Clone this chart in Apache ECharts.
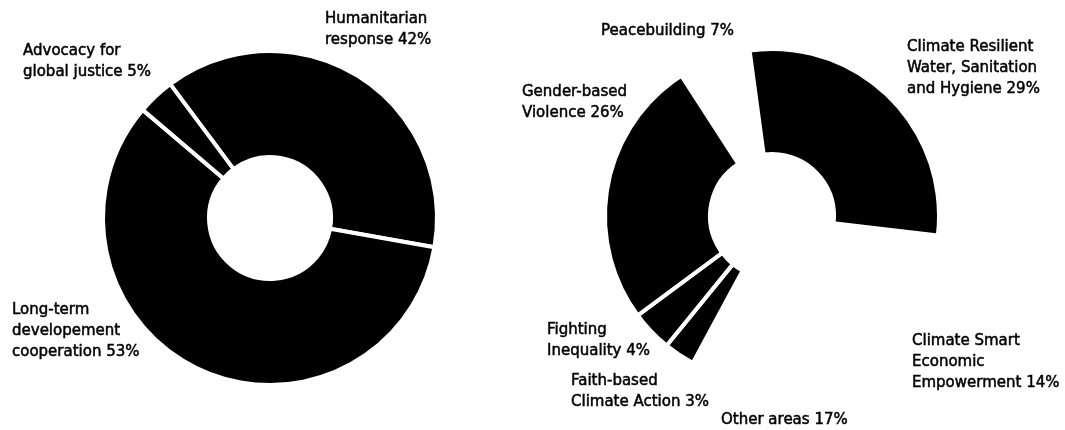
<!DOCTYPE html>
<html>
<head>
<meta charset="utf-8">
<script src="https://cdn.jsdelivr.net/npm/echarts@6/dist/echarts.min.js"></script>
<style>
  html, body { margin: 0; padding: 0; background: #fff; }
  #chart { width: 1065px; height: 430px; }
</style>
</head>
<body>
<div id="chart"></div>
<script>
// ---- Left donut data ----
const leftNames = ['Humanitarian\nresponse', 'Long-term\ndevelopement\ncooperation', 'Advocacy for\nglobal justice'];
const leftLabelPct = [42, 53, 5];            // percentages printed in the labels
const leftDrawnShare = [38, 58.4, 3.6];      // angular shares as drawn in the picture

// ---- Right donut data ----
const rightNames = [
  'Climate Resilient\nWater, Sanitation\nand Hygiene',
  'Climate Smart\nEconomic\nEmpowerment',
  'Other areas',
  'Faith-based\nClimate Action',
  'Fighting\nInequality',
  'Gender-based\nViolence',
  'Peacebuilding'
];
const rightPct = [29, 14, 17, 3, 4, 26, 7];
const rightVisible = [true, false, false, true, true, true, false];

// ---- Layout (label anchor positions, top-left of text block) ----
const leftLabelPos = [[325, 9], [12, 300], [23, 41]];
const rightLabelPos = [[907, 37], [912, 331], [721, 410], [571, 371], [547, 320], [522, 82], [601, 21]];

const FONT = {
  fontFamily: 'DejaVu Sans', fontSize: 15, fontWeight: 'normal', color: '#000', lineHeight: 21,
  textBorderColor: '#000', textBorderWidth: 0.5
};

const leftData = leftNames.map((n, i) => ({
  name: n, value: leftDrawnShare[i], pct: leftLabelPct[i]
}));
const rightData = rightNames.map((n, i) => ({
  name: n, value: rightPct[i], pct: rightPct[i],
  itemStyle: rightVisible[i] ? {} : { color: 'rgba(0,0,0,0)', borderWidth: 0 }
}));

function makeSeries(data, center, startAngle, inner, posArr) {
  return {
    type: 'pie',
    center: center,
    radius: [inner, 167],
    startAngle: startAngle,
    clockwise: true,
    silent: true,
    avoidLabelOverlap: false,
    data: data,
    itemStyle: { color: '#000', borderColor: '#fff', borderWidth: 4 },
    label: Object.assign({
      show: true,
      position: 'outside',
      formatter: p => p.name + ' ' + p.data.pct + '%'
    }, FONT),
    labelLine: { show: false },
    labelLayout: function (params) {
      const p = posArr[params.dataIndex];
      return { x: p[0], y: p[1], align: 'left', verticalAlign: 'top' };
    },
    emphasis: { disabled: true }
  };
}

const chart = echarts.init(document.getElementById('chart'), null, { renderer: 'canvas' });
chart.setOption({
  animation: false,
  backgroundColor: '#fff',
  series: [
    makeSeries(leftData, [270, 218], 126.7, 61, leftLabelPos),
    makeSeries(rightData, [772, 216], 97.7, 62, rightLabelPos)
  ]
});
</script>
</body>
</html>
